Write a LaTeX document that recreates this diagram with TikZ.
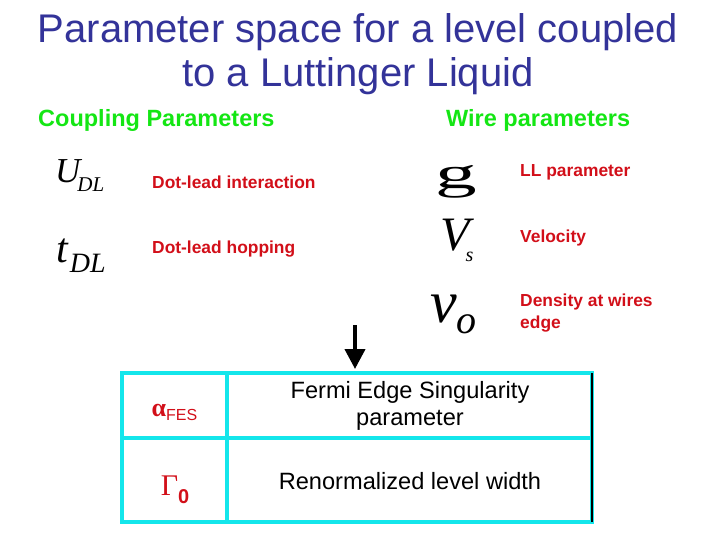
\documentclass[tikz,border=0pt]{standalone}
\usepackage{fontspec}
\setmainfont{Liberation Sans}
\newfontfamily\tmsfont{Liberation Serif}
\usetikzlibrary{arrows.meta}
\definecolor{titleblue}{RGB}{51,51,153}
\definecolor{headgreen}{RGB}{20,230,20}
\definecolor{lblred}{RGB}{210,15,25}
\definecolor{tabcyan}{RGB}{20,230,235}

\begin{document}
\begin{tikzpicture}[x=1pt,y=-1pt,
  titletxt/.style={anchor=base,text=titleblue,inner sep=0,font=\fontsize{40}{44}\selectfont},
  header/.style={anchor=base west,text=headgreen,inner sep=0,font=\bfseries\fontsize{23.5}{27}\selectfont},
  redlbl/.style={anchor=base west,text=lblred,inner sep=0,align=left,font=\bfseries\fontsize{17.4}{22}\selectfont},
  sym/.style={anchor=base west,inner sep=0,font=\tmsfont\itshape\fontsize{#1}{#1}\selectfont},
  tabline/.style={tabcyan,line width=3.5pt},
  celltxt/.style={align=center,inner sep=0,font=\fontsize{23.6}{27}\selectfont}]
  \useasboundingbox (0,0) rectangle (720,540);

  % title and the two column headers
  \node[titletxt] (title1) at (358,43) {Parameter space for a level coupled};
  \node[titletxt] (title2) at (358,87) {to a Luttinger Liquid};
  \node[header] (coupling) at (38,127) {Coupling Parameters};
  \node[header] (wire) at (446,127) {Wire parameters};

  % coupling parameters
  \node[sym=35] (udl) at (55,183) {U\kern-3pt\raisebox{-9pt}{\fontsize{21}{21}\selectfont DL}};
  \node[sym=42] (tdl) at (56,262) {t\kern2pt\raisebox{-10pt}{\fontsize{28}{28}\selectfont DL}};
  \node[redlbl] (udllbl) at (152,189) {Dot-lead interaction};
  \node[redlbl] (tdllbl) at (152,253) {Dot-lead hopping};

  % wire parameters
  \node[sym=45] (g) at (435,189) {\upshape\scalebox{1.85}[1]{g}};
  \node[sym=48] (vs) at (440,250) {V\kern-4pt\raisebox{-12pt}{\fontsize{20}{20}\selectfont s}};
  \node[sym=60] (nuo) at (430,322) {ν\raisebox{-11pt}{\fontsize{40}{40}\selectfont o}};
  \node[redlbl] (glbl) at (520,177) {LL parameter};
  \node[redlbl] (vslbl) at (520,243) {Velocity};
  \node[redlbl] (nuolbl) at (520,328) {Density at wires\\edge};

  % result table
  \draw[tabline] (122,373) rectangle (592,522);
  \draw[tabline] (122,438) -- (592,438);
  \draw[tabline] (227,373) -- (227,522);
  \draw[line width=2.5pt] (592,373) -- (592,522);
  \node[anchor=base,text=lblred,inner sep=0] (alpha) at (174.5,416)
    {{\tmsfont\bfseries\fontsize{26}{26}\selectfont α}\raisebox{-4pt}{\fontsize{16}{16}\selectfont FES}};
  \node[anchor=base,text=lblred,inner sep=0] (gamma) at (175,495)
    {{\tmsfont\fontsize{30}{30}\selectfont Γ}\raisebox{-8pt}{\bfseries\fontsize{20}{20}\selectfont 0}};
  \node[celltxt] (fes) at (410,406) {Fermi Edge Singularity\\parameter};
  \node[celltxt] (width) at (410,481) {Renormalized level width};

  \coordinate (arrtop) at (355,325);
  \coordinate (tabtop) at (355,369);
  \draw[line width=4pt,-{Triangle[width=20pt,length=20pt]}] (arrtop) -- (tabtop);
\end{tikzpicture}
\end{document}
